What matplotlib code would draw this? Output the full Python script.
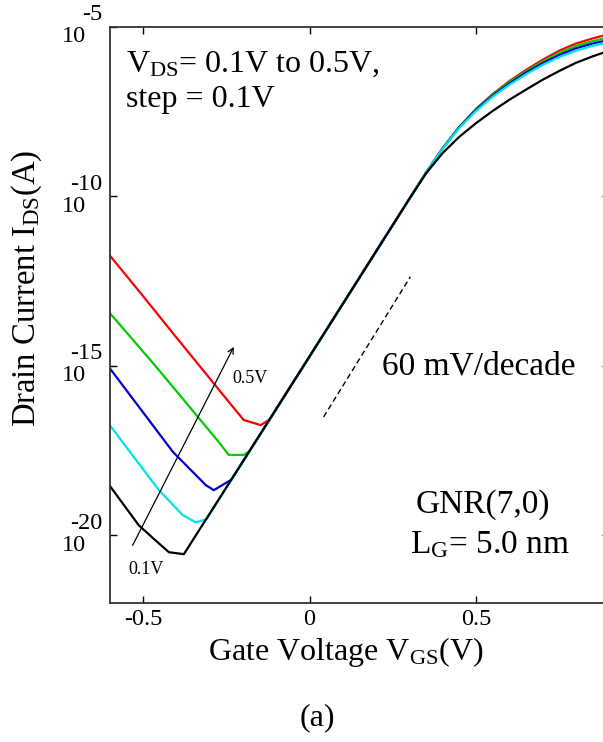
import numpy as np
import matplotlib
matplotlib.use('Agg')
import matplotlib.pyplot as plt
from matplotlib.transforms import blended_transform_factory, offset_copy
from matplotlib.ticker import NullLocator, NullFormatter

plt.rcParams['font.family'] = ['Liberation Serif', 'DejaVu Serif']
plt.rcParams['mathtext.fontset'] = 'custom'
plt.rcParams['mathtext.rm'] = 'Liberation Serif'
plt.rcParams['mathtext.it'] = 'Liberation Serif:italic'
plt.rcParams['axes.unicode_minus'] = False

# ---------------- data (log10 of drain current) ----------------
vds_names = ['0.5V', '0.4V', '0.3V', '0.2V', '0.1V']
curve_colors = ['#ff0000', '#00cc00', '#0000cc', '#00e5e5', '#000000']

# ambipolar (left) branches
red_left_vgs = [-0.600, -0.500, -0.400, -0.321, -0.250, -0.198, -0.147, -0.120]
red_left_log = [-11.75, -12.95, -14.17, -15.12, -15.98, -16.60, -16.75, -16.58]

green_left_vgs = [-0.600, -0.462, -0.273, -0.243, -0.198, -0.180]
green_left_log = [-13.45, -15.02, -17.25, -17.63, -17.63, -17.51]

blue_left_vgs = [-0.600, -0.411, -0.312, -0.288, -0.235]
blue_left_log = [-15.08, -17.54, -18.52, -18.67, -18.36]

cyan_left_vgs = [-0.600, -0.453, -0.381, -0.342, -0.310]
cyan_left_log = [-16.76, -18.67, -19.41, -19.62, -19.53]

black_left_vgs = [-0.600, -0.514, -0.468, -0.423, -0.378]
black_left_log = [-18.55, -19.70, -20.11, -20.50, -20.56]

# common subthreshold segment
common_vgs = [-0.10, 0.00, 0.10, 0.20, 0.30]
common_log = [-16.27, -14.72, -13.17, -11.62, -10.07]

# on-state (upper) part
upper_vgs = [0.35, 0.40, 0.45, 0.50, 0.55, 0.60, 0.65, 0.70, 0.75, 0.80, 0.85, 0.90]
red_upper_log = [-9.30, -8.58, -7.95, -7.42, -6.98, -6.60, -6.27, -5.97, -5.70, -5.49, -5.34, -5.21]
green_upper_log = [-9.30, -8.58, -7.95, -7.43, -7.00, -6.63, -6.31, -6.02, -5.77, -5.56, -5.42, -5.30]
blue_upper_log = [-9.30, -8.58, -7.96, -7.45, -7.03, -6.67, -6.35, -6.07, -5.83, -5.63, -5.49, -5.38]
cyan_upper_log = [-9.30, -8.59, -7.98, -7.48, -7.06, -6.71, -6.40, -6.12, -5.89, -5.70, -5.56, -5.45]
black_upper_log = [-9.32, -8.72, -8.24, -7.84, -7.48, -7.15, -6.85, -6.56, -6.30, -6.06, -5.87, -5.70]

# 60 mV/decade reference line
ref_vgs = [0.042, 0.303]
ref_log = [-16.51, -12.37]

xticks = [-0.5, 0.0, 0.5]
xtick_labels = ['-0.5', '0', '0.5']
ytick_exps = [-20, -15, -10, -5]

# ---------------- figure ----------------
fig = plt.figure(figsize=(6.03, 7.42), dpi=100)
ax = fig.add_axes([110 / 603, 139 / 742, 499 / 603, 576 / 742])

lefts = [(red_left_vgs, red_left_log), (green_left_vgs, green_left_log),
         (blue_left_vgs, blue_left_log), (cyan_left_vgs, cyan_left_log),
         (black_left_vgs, black_left_log)]
uppers = [red_upper_log, green_upper_log, blue_upper_log, cyan_upper_log, black_upper_log]

for (lv, ll), ul, c in zip(lefts, uppers, curve_colors):
    v = np.concatenate([lv, common_vgs, upper_vgs])
    l = np.concatenate([ll, common_log, ul])
    ax.plot(v, 10.0 ** l, color=c, lw=1.6, solid_joinstyle='round')

ax.plot(ref_vgs, 10.0 ** np.array(ref_log), color='black', lw=1.0, ls=(0, (4, 2.5)))

ax.set_yscale('log')
ax.set_xlim(-0.6, 0.9)
ax.set_ylim(1e-22, 1e-5)
ax.set_xticks(xticks)
ax.set_xticklabels(xtick_labels, fontsize=17.5)
ax.set_yticks([10.0 ** e for e in ytick_exps])
ax.yaxis.set_minor_locator(NullLocator())
ax.yaxis.set_major_formatter(NullFormatter())
ax.yaxis.set_minor_formatter(NullFormatter())
ax.tick_params(which='both', direction='in', top=True, right=True, length=5, width=1, pad=4)
for s in ax.spines.values():
    s.set_linewidth(1.3)
    s.set_color('#333333')

trans = blended_transform_factory(ax.transAxes, ax.transData)
for e in ytick_exps:
    ax.text(-0.096, 10.0 ** e, '10', fontsize=17.5, ha='left', va='center',
            transform=offset_copy(trans, fig=fig, x=0, y=-10, units='dots'))
    ax.text(-0.016, 10.0 ** e, f'{e}', fontsize=17.5, ha='right', va='center',
            transform=offset_copy(trans, fig=fig, x=0, y=12, units='dots'))

# annotations
ax.text(-0.553, 10 ** -6.33, r'$\mathrm{V_{DS}}$= 0.1V to 0.5V,', fontsize=23, va='baseline', ha='left')
ax.text(-0.553, 10 ** -7.37, 'step = 0.1V', fontsize=23, va='baseline', ha='left')
ax.text(0.219, 10 ** -15.27, '60 mV/decade', fontsize=24, va='baseline', ha='left')
ax.text(0.318, 10 ** -19.35, 'GNR(7,0)', fontsize=24, va='baseline', ha='left')
ax.text(0.303, 10 ** -20.53, r'L$_{\mathrm{G}}$= 5.0 nm', fontsize=24, va='baseline', ha='left')
ax.text(-0.231, 10 ** -15.5, '0.5V', fontsize=13, va='baseline', ha='left')
ax.text(-0.544, 10 ** -21.15, '0.1V', fontsize=13, va='baseline', ha='left')
ax.annotate('', xy=(-0.228, 10 ** -14.44), xytext=(-0.532, 10 ** -20.30),
            arrowprops=dict(arrowstyle='->', color='black', lw=0.9, shrinkA=0, shrinkB=0))

fig.text(346 / 603, 1 - 660 / 742, r'Gate Voltage $\mathrm{V_{GS}}$(V)', fontsize=23,
         ha='center', va='baseline')
fig.text(27 / 603, 1 - 288 / 742, r'Drain Current I$_{\mathrm{DS}}$(A)', fontsize=23.5,
         ha='center', va='center', rotation=90)
fig.text(317 / 603, 1 - 718 / 742, '(a)', fontsize=23, ha='center', va='center')

fig.savefig('out.png', dpi=100)
